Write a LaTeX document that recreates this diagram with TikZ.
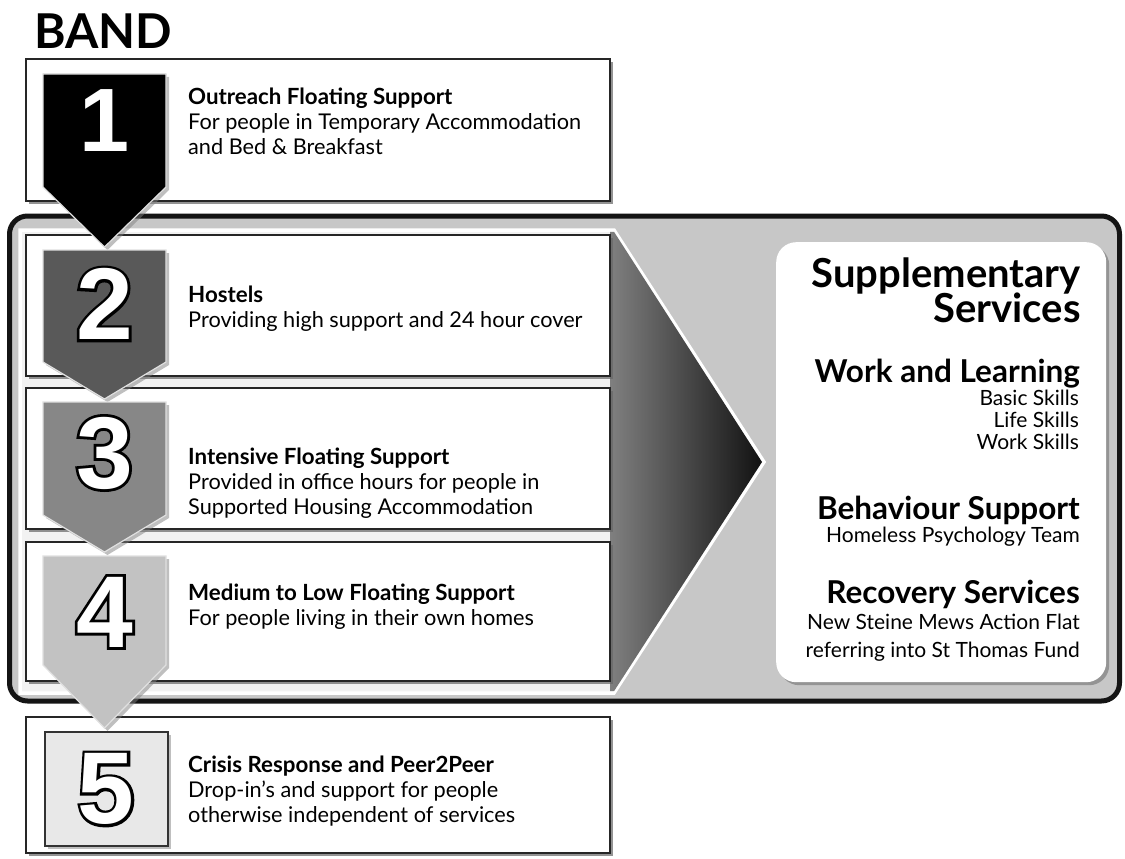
\documentclass[tikz,border=0pt]{standalone}
\usepackage{fontspec}
\setmainfont{Lato}
\newfontfamily\digitfill{Liberation Sans Bold}
\newfontfamily\digitout[FakeBold=5.5]{Liberation Sans Bold}
\usetikzlibrary{shadows}
\newcommand{\bandarrow}[4]{%
  \draw[chev, fill=#4] (43,#1) -- (166,#1) -- (166,#2) -- (104.5,#3) -- (43,#2) -- cycle;}
\begin{document}
\begin{tikzpicture}[x=1pt,y=-1pt,
  box/.style={draw=black!85, line width=2pt, fill=white, inner sep=0, outer sep=0,
    anchor=north west,
    drop shadow={shadow xshift=3pt, shadow yshift=-3pt, fill=black!60, opacity=0.7}},
  chev/.style={draw=black!12, line width=1.2pt,
    drop shadow={shadow xshift=3pt, shadow yshift=-3pt, fill=black!50, opacity=0.5}},
  digit/.style={inner sep=0, text=white, font=\digitfill\fontsize{102}{102}\selectfont},
  digitline/.style={inner sep=0, text=black, font=\digitout\fontsize{102}{102}\selectfont},
  title/.style={anchor=base west, inner sep=0, font=\bfseries\fontsize{22.3}{25}\selectfont},
  body/.style={anchor=base west, inner sep=0, font=\fontsize{21.7}{25}\selectfont},
  suptitle/.style={anchor=base east, inner sep=0, font=\bfseries\fontsize{40}{40}\selectfont},
  suphead/.style={anchor=base east, inner sep=0, font=\bfseries\fontsize{31.5}{31.5}\selectfont},
  supitem/.style={anchor=base east, inner sep=0, font=\fontsize{21}{21}\selectfont},
]
\useasboundingbox (0,0) rectangle (1125,859);
\fill[white] (0,0) rectangle (1125,859);

% title
\node[anchor=base west, inner sep=0, font=\bfseries\fontsize{48}{48}\selectfont] (band) at (34,49) {BAND};

% box 1
\node[box, minimum width=584pt, minimum height=142pt] (b1) at (26,59) {};

% frame
\draw[line width=5pt, draw=black!92, fill=black!22, rounded corners=18pt] (9.5,216) rectangle (1119.5,701);

% big arrow
\draw[white, line width=3.5pt, fill=black!5] (20,230) -- (614,230) -- (764,462) -- (614,693) -- (20,693) -- cycle;
\shade[left color=black!50, right color=black!93] (610,231.8) -- (614,231.8) -- (762,462) -- (614,691.2) -- (610,691.2) -- cycle;

% boxes 2-5
\node[box, minimum width=584pt, minimum height=141pt] (b2) at (26,235) {};
\node[box, minimum width=584pt, minimum height=141pt] (b3) at (26,388) {};
\node[box, minimum width=584pt, minimum height=139pt] (b4) at (26,542) {};
\node[box, minimum width=584pt, minimum height=136pt] (b5) at (26,717) {};

% supplementary box
\node[anchor=north west, inner sep=0, fill=white, rounded corners=20pt,
  minimum width=330pt, minimum height=440pt,
  drop shadow={shadow xshift=3pt, shadow yshift=-3pt, fill=black!55, opacity=0.6}] (supp) at (776,242) {};

% band arrows
\bandarrow{74}{187}{247}{black}
\bandarrow{250}{362}{399}{black!65}
\bandarrow{402}{515}{552}{black!47}
\bandarrow{556}{665}{728}{black!24}
\draw[chev, draw=black!80, fill=black!9] (45,732) rectangle (168,846);

% digits
\node[digit, font=\digitfill\fontsize{90}{90}\selectfont] (d1) at (104.5,121) {1};
\node[digitline] (d2o) at (104.5,304) {2};
\node[digit] (d2) at (104.5,304) {2};
\node[digitline] (d3o) at (104.5,453) {3};
\node[digit] (d3) at (104.5,453) {3};
\node[digitline] (d4o) at (104.5,612) {4};
\node[digit] (d4) at (104.5,612) {4};
\node[digitline] (d5o) at (106,789) {5};
\node[digit] (d5) at (106,789) {5};

% box texts
\node[title] (t1) at (188,104) {Outreach Floating Support};
\node[body] (t1a) at (188,129) {For people in Temporary Accommodation};
\node[body] (t1b) at (188,154) {and Bed \& Breakfast};

\node[title] (t2) at (188,302) {Hostels};
\node[body] (t2a) at (188,327) {Providing high support and 24 hour cover};

\node[title] (t3) at (188,464) {Intensive Floating Support};
\node[body] (t3a) at (188,489) {Provided in office hours for people in};
\node[body] (t3b) at (188,514) {Supported Housing Accommodation};

\node[title] (t4) at (188,600) {Medium to Low Floating Support};
\node[body] (t4a) at (188,625) {For people living in their own homes};

\node[title] (t5) at (188,772) {Crisis Response and Peer2Peer};
\node[body] (t5a) at (188,797) {Drop-in’s and support for people};
\node[body] (t5b) at (188,822) {otherwise independent of services};

% supplementary texts
\node[suptitle] (s1) at (1081,287) {\raisebox{0pt}[\height][0pt]{Supplementary}};
\node[suptitle] (s2) at (1081,322) {Services};
\node[suphead] (h1) at (1080,382) {Work and Learning};
\node[supitem] (i1) at (1079,405.5) {Basic Skills};
\node[supitem] (i2) at (1079,427.5) {Life Skills};
\node[supitem] (i3) at (1079,449.5) {Work Skills};
\node[suphead] (h2) at (1080,519) {Behaviour Support};
\node[supitem] (i4) at (1080,542.5) {Homeless Psychology Team};
\node[suphead] (h3) at (1080,603) {Recovery Services};
\node[supitem] (i5) at (1080,629.5) {New Steine Mews Action Flat};
\node[supitem] (i6) at (1080,657.5) {referring into St Thomas Fund};
\end{tikzpicture}
\end{document}
